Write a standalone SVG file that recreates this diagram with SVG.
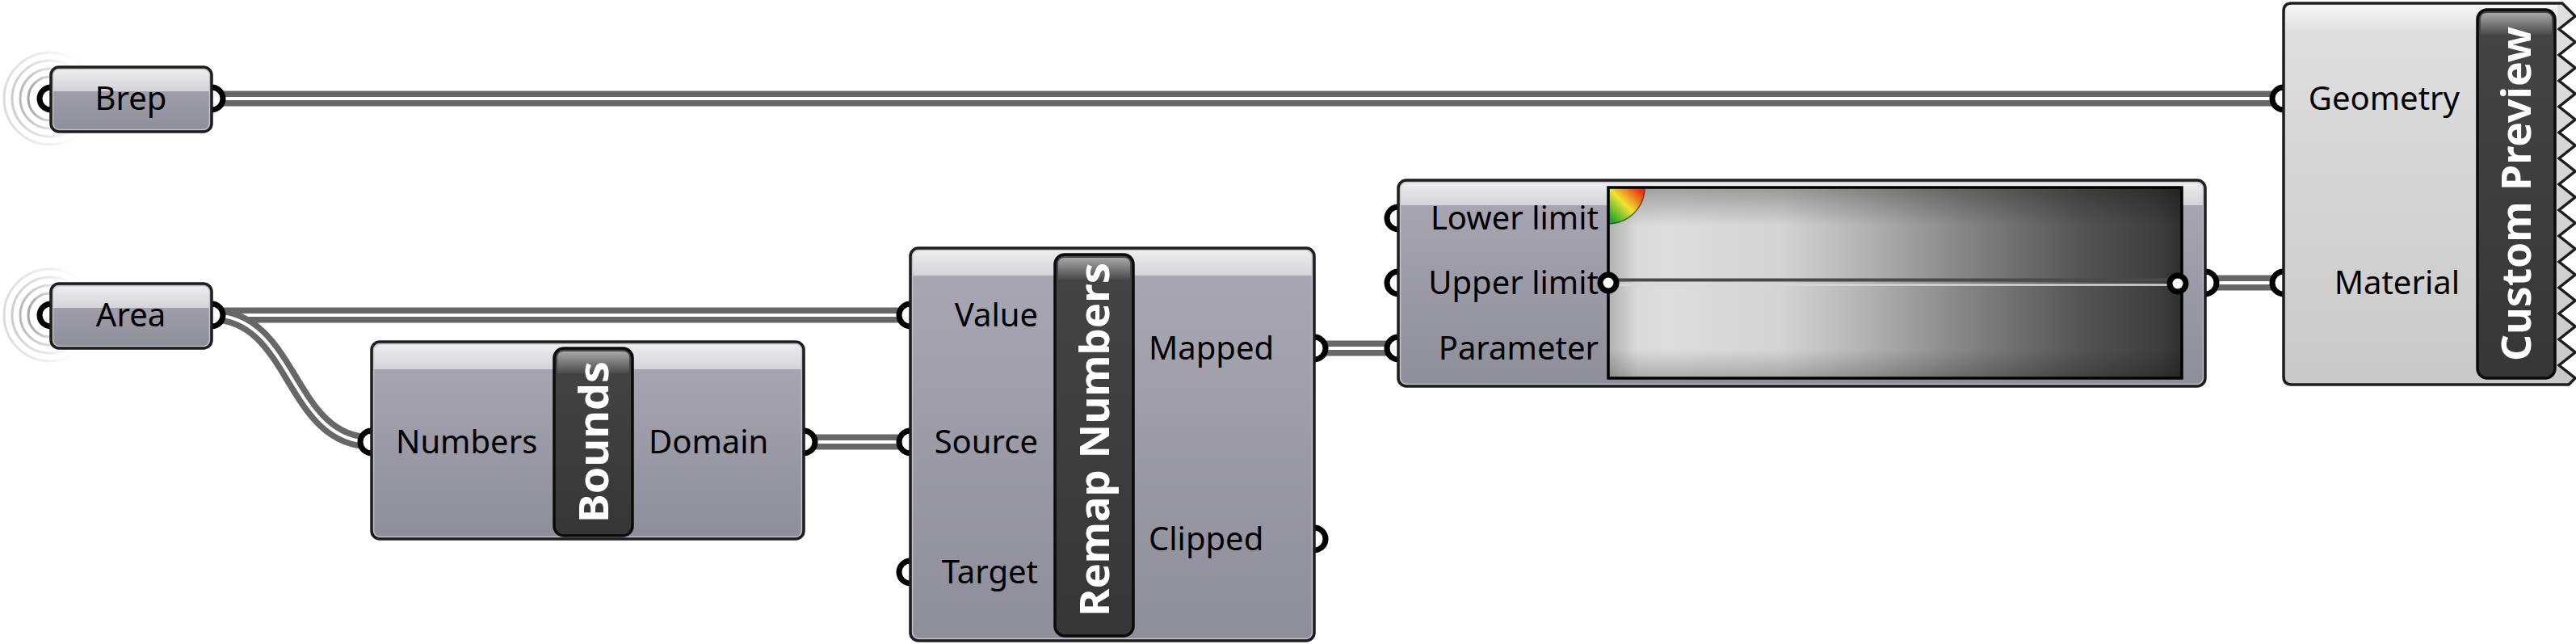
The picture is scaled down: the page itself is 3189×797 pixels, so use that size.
<svg xmlns="http://www.w3.org/2000/svg" width="3189" height="797" viewBox="0 0 3189 797">
<style>
.lbl{font-family:"Noto Sans","Open Sans","DejaVu Sans",sans-serif;font-size:40px;fill:#000}
.name{font-family:"Noto Sans","Open Sans","DejaVu Sans",sans-serif;font-size:50px;font-weight:bold;fill:#fff}
.wo{fill:none;stroke:#676767;stroke-width:19}
.wi{fill:none;stroke:#fff;stroke-width:4}
.ring{fill:#fff;stroke:#000;stroke-width:7}
.outline{fill:none;stroke:#1e1e1e;stroke-width:3.5}
.inner{fill:none;stroke:#c4c3cc;stroke-width:1.5}
.bar{fill:url(#barBody);stroke:#0a0a0a;stroke-width:3.5}
.barhi{fill:url(#barHi)}
.handle{fill:#fff;stroke:#000;stroke-width:7}
.wl{fill:none;stroke-width:3}
</style>
<defs>
<linearGradient id="body" x1="0" y1="0" x2="0" y2="1">
<stop offset="0" stop-color="#a9a8b4"/><stop offset="1" stop-color="#8e8d9a"/>
</linearGradient>
<linearGradient id="hi" x1="0" y1="0" x2="0" y2="1">
<stop offset="0" stop-color="#efeff1"/><stop offset="1" stop-color="#d3d3d9"/>
</linearGradient>
<linearGradient id="cpBody" x1="0" y1="0" x2="0" y2="1">
<stop offset="0" stop-color="#e0e0e0"/><stop offset="1" stop-color="#c9c9c9"/>
</linearGradient>
<linearGradient id="cpHi" x1="0" y1="0" x2="0" y2="1">
<stop offset="0" stop-color="#f7f7f7"/><stop offset="1" stop-color="#e2e2e2"/>
</linearGradient>
<linearGradient id="barBody" x1="0" y1="0" x2="0" y2="1">
<stop offset="0" stop-color="#454545"/><stop offset="1" stop-color="#363636"/>
</linearGradient>
<linearGradient id="barHi" x1="0" y1="0" x2="0" y2="1">
<stop offset="0" stop-color="#a8a8a8"/><stop offset="1" stop-color="#4a4a4a"/>
</linearGradient>
<linearGradient id="grad" x1="0" y1="0" x2="1" y2="0">
<stop offset="0" stop-color="#d6d6d6"/>
<stop offset="0.1" stop-color="#dddddd"/>
<stop offset="0.3" stop-color="#d4d4d4"/>
<stop offset="0.45" stop-color="#b2b2b2"/>
<stop offset="0.62" stop-color="#858585"/>
<stop offset="0.82" stop-color="#555555"/>
<stop offset="1" stop-color="#373737"/>
</linearGradient>
<linearGradient id="vig" x1="0" y1="0" x2="0" y2="1">
<stop offset="0" stop-color="#000" stop-opacity="0.28"/>
<stop offset="0.2" stop-color="#000" stop-opacity="0"/>
<stop offset="0.85" stop-color="#000" stop-opacity="0"/>
<stop offset="1" stop-color="#000" stop-opacity="0.22"/>
</linearGradient>
<linearGradient id="vigL" x1="0" y1="0" x2="1" y2="0">
<stop offset="0" stop-color="#000" stop-opacity="0.18"/>
<stop offset="0.05" stop-color="#000" stop-opacity="0"/>
<stop offset="0.96" stop-color="#000" stop-opacity="0"/>
<stop offset="1" stop-color="#000" stop-opacity="0.15"/>
</linearGradient>
<linearGradient id="marker" x1="0" y1="1" x2="1" y2="0">
<stop offset="0.1" stop-color="#1fa82a"/>
<stop offset="0.5" stop-color="#f0e432"/>
<stop offset="0.9" stop-color="#e8330f"/>
</linearGradient>
<linearGradient id="fade" x1="0" y1="0" x2="1" y2="0">
<stop offset="0" stop-color="#9a9a9a" stop-opacity="1"/>
<stop offset="0.5" stop-color="#c0c0c0" stop-opacity="0.7"/>
<stop offset="1" stop-color="#ffffff" stop-opacity="0"/>
</linearGradient>
</defs>
<rect width="3189" height="797" fill="#fff"/>

<g id="connectors">
<path class="wo" d="M262,122 H2827"/><path class="wi" d="M262,122 H2827"/>
<path class="wo" d="M262,390 H1127"/><path class="wi" d="M262,390 H1127"/>
<path class="wo" d="M262,390 C365,390 357,547 460,547"/><path class="wi" d="M262,390 C365,390 357,547 460,547"/>
<path class="wo" d="M995,547 H1127"/><path class="wi" d="M995,547 H1127"/>
<path class="wo" d="M1627,431 H1731"/><path class="wi" d="M1627,431 H1731"/>
<path class="wo" d="M2730,350 H2827"/><path class="wi" d="M2730,350 H2827"/>
</g>

<g id="node-brep">
<circle class="wl" cx="62" cy="122" r="57" stroke="url(#fade)" opacity="0.35"/>
<circle class="wl" cx="62" cy="122" r="47" stroke="url(#fade)" opacity="0.5"/>
<circle class="wl" cx="62" cy="122" r="37" stroke="url(#fade)" opacity="0.7"/>
<circle class="wl" cx="62" cy="122" r="27" stroke="url(#fade)" opacity="0.9"/>
<circle class="ring" cx="63" cy="122" r="14"/>
<circle class="ring" cx="262" cy="122" r="14"/>
<rect x="63" y="83" width="199" height="80" rx="10" fill="url(#body)"/>
<path d="M65,113 V93 Q65,85 73,85 H252 Q260,85 260,93 V113 Z" fill="url(#hi)"/>
<rect x="65.5" y="85.5" width="194" height="75" rx="8" class="inner"/>
<rect x="63" y="83" width="199" height="80" rx="10" class="outline"/>
<text class="lbl" x="162" y="136" text-anchor="middle">Brep</text>
</g>

<g id="node-area">
<circle class="wl" cx="62" cy="390" r="57" stroke="url(#fade)" opacity="0.35"/>
<circle class="wl" cx="62" cy="390" r="47" stroke="url(#fade)" opacity="0.5"/>
<circle class="wl" cx="62" cy="390" r="37" stroke="url(#fade)" opacity="0.7"/>
<circle class="wl" cx="62" cy="390" r="27" stroke="url(#fade)" opacity="0.9"/>
<circle class="ring" cx="63" cy="390" r="14"/>
<circle class="ring" cx="262" cy="390" r="14"/>
<rect x="63" y="351" width="199" height="80" rx="10" fill="url(#body)"/>
<path d="M65,381 V361 Q65,353 73,353 H252 Q260,353 260,361 V381 Z" fill="url(#hi)"/>
<rect x="65.5" y="353.5" width="194" height="75" rx="8" class="inner"/>
<rect x="63" y="351" width="199" height="80" rx="10" class="outline"/>
<text class="lbl" x="162" y="404" text-anchor="middle">Area</text>
</g>

<g id="node-bounds">
<circle class="ring" cx="460" cy="547" r="14"/>
<circle class="ring" cx="995" cy="547" r="14"/>
<rect x="460" y="423" width="535" height="244" rx="10" fill="url(#body)"/>
<path d="M462,457 V433 Q462,425 470,425 H985 Q993,425 993,433 V457 Z" fill="url(#hi)"/>
<rect x="462.5" y="425.5" width="530" height="239" rx="8" class="inner"/>
<rect x="460" y="423" width="535" height="244" rx="10" class="outline"/>
<rect x="686" y="431" width="97" height="232" rx="12" class="bar"/>
<path d="M690,462 V443 Q690,435 698,435 H771 Q779,435 779,443 V462 Z" class="barhi"/>
<text class="name" transform="translate(734.5,547) rotate(-90)" x="0" y="18" text-anchor="middle" textLength="200" lengthAdjust="spacingAndGlyphs">Bounds</text>
<text class="lbl" x="490" y="561">Numbers</text>
<text class="lbl" x="803" y="561">Domain</text>
</g>

<g id="node-remap">
<circle class="ring" cx="1127" cy="390" r="14"/>
<circle class="ring" cx="1127" cy="547" r="14"/>
<circle class="ring" cx="1127" cy="708" r="14"/>
<circle class="ring" cx="1627" cy="431" r="14"/>
<circle class="ring" cx="1627" cy="667" r="14"/>
<rect x="1127" y="307" width="500" height="486" rx="10" fill="url(#body)"/>
<path d="M1129,341 V317 Q1129,309 1137,309 H1617 Q1625,309 1625,317 V341 Z" fill="url(#hi)"/>
<rect x="1129.5" y="309.5" width="495" height="481" rx="8" class="inner"/>
<rect x="1127" y="307" width="500" height="486" rx="10" class="outline"/>
<rect x="1306" y="315" width="97" height="472" rx="12" class="bar"/>
<path d="M1310,346 V327 Q1310,319 1318,319 H1391 Q1399,319 1399,327 V346 Z" class="barhi"/>
<text class="name" transform="translate(1354.5,544) rotate(-90)" x="0" y="18" text-anchor="middle" textLength="438" lengthAdjust="spacingAndGlyphs">Remap Numbers</text>
<text class="lbl" x="1285" y="404" text-anchor="end">Value</text>
<text class="lbl" x="1285" y="561" text-anchor="end">Source</text>
<text class="lbl" x="1285" y="722" text-anchor="end">Target</text>
<text class="lbl" x="1422" y="445">Mapped</text>
<text class="lbl" x="1422" y="681">Clipped</text>
</g>

<g id="node-gradient">
<circle class="ring" cx="1731" cy="270" r="14"/>
<circle class="ring" cx="1731" cy="350" r="14"/>
<circle class="ring" cx="1731" cy="431" r="14"/>
<circle class="ring" cx="2730" cy="350" r="14"/>
<rect x="1731" y="223" width="999" height="255" rx="10" fill="url(#body)"/>
<path d="M1733,254 V233 Q1733,225 1741,225 H2720 Q2728,225 2728,233 V254 Z" fill="url(#hi)"/>
<rect x="1733.5" y="225.5" width="994" height="250" rx="8" class="inner"/>
<rect x="1731" y="223" width="999" height="255" rx="10" class="outline"/>
<rect x="1991" y="232" width="710" height="236" fill="url(#grad)"/>
<rect x="1991" y="232" width="710" height="236" fill="url(#vig)"/>
<rect x="1991" y="232" width="710" height="236" fill="url(#vigL)"/>
<path d="M1991,346.5 H2701" stroke="#4a4a4a" stroke-width="4"/>
<path d="M1991,352.5 H2701" stroke="#d8d8d8" stroke-width="3" opacity="0.85"/>
<path d="M1991,232 H2036 A45,45 0 0 1 1991,277 Z" fill="url(#marker)"/>
<path d="M2036,232 A45,45 0 0 1 1991,277" fill="none" stroke="#2a2a2a" stroke-width="1.5" opacity="0.7"/>
<rect x="1991" y="232" width="710" height="236" fill="none" stroke="#000" stroke-width="3.5"/>
<circle class="handle" cx="1991" cy="350" r="10"/>
<circle class="handle" cx="2696" cy="351" r="10"/>
<text class="lbl" x="1979" y="284" text-anchor="end">Lower limit</text>
<text class="lbl" x="1979" y="364" text-anchor="end">Upper limit</text>
<text class="lbl" x="1979" y="445" text-anchor="end">Parameter</text>
</g>

<g id="node-custom-preview">
<circle class="ring" cx="2827" cy="122" r="14"/>
<circle class="ring" cx="2827" cy="350" r="14"/>
<path d="M2837,4 H3172 L3188,20 L3168,36 L3188,52 L3168,68 L3188,84 L3168,100 L3188,116 L3168,132 L3188,148 L3168,164 L3188,180 L3168,196 L3188,212 L3168,228 L3188,244 L3168,260 L3188,276 L3168,292 L3188,308 L3168,324 L3188,340 L3168,356 L3188,372 L3168,388 L3188,404 L3168,420 L3188,436 L3168,452 L3188,468 L3180,476 H2837 Q2827,476 2827,466 V14 Q2827,4 2837,4 Z" fill="url(#cpBody)" stroke="#1e1e1e" stroke-width="3.5" stroke-linejoin="miter"/>
<path d="M2829,36 V14 Q2829,6 2837,6 H3166 V36 Z" fill="url(#cpHi)"/>
<rect x="3067" y="12" width="96" height="456" rx="12" class="bar"/>
<path d="M3071,43 V24 Q3071,16 3079,16 H3151 Q3159,16 3159,24 V43 Z" class="barhi"/>
<text class="name" transform="translate(3115,240) rotate(-90)" x="0" y="18" text-anchor="middle" textLength="414" lengthAdjust="spacingAndGlyphs">Custom Preview</text>
<text class="lbl" x="3045" y="136" text-anchor="end">Geometry</text>
<text class="lbl" x="3045" y="364" text-anchor="end">Material</text>
</g>
</svg>
